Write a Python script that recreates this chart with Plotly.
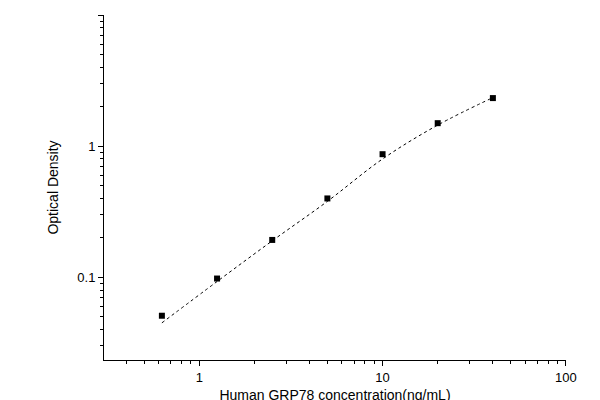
import plotly.graph_objects as go

# standards (ng/mL) and measured OD
conc = [0.625, 1.25, 2.5, 5, 10, 20, 40]
od = [0.051, 0.098, 0.193, 0.40, 0.87, 1.50, 2.33]

# fitted curve
curve_x = [0.625, 1.25, 2.5, 5, 10, 20, 40]
curve_y = [0.045, 0.093, 0.19, 0.38, 0.80, 1.45, 2.35]

fig = go.Figure()
fig.add_trace(go.Scatter(x=curve_x, y=curve_y, mode='lines', line_shape='spline',
                         line=dict(color='black', width=1, dash='dot'), showlegend=False))
fig.add_trace(go.Scatter(x=conc, y=od, mode='markers',
                         marker=dict(symbol='square', size=6, color='black'), showlegend=False))

axis_common = dict(type='log', showline=True, linecolor='black', linewidth=1, ticks='outside',
                   ticklen=5, tickcolor='black', showgrid=False, zeroline=False,
                   minor=dict(ticks='outside', ticklen=3, tickcolor='black', dtick='D1', showgrid=False),
                   tickfont=dict(family='Arial, Liberation Sans', size=13, color='black'))

fig.update_xaxes(range=[-0.52, 2.001], tickvals=[1, 10, 100], ticktext=['1', '10', '100'],
                 title=dict(text='Human GRP78 concentration(ng/mL)', standoff=6,
                            font=dict(size=14, color='black')),
                 **axis_common)
fig.update_yaxes(range=[-1.63, 1.001], tickvals=[0.1, 1, 10], ticktext=['0.1', '1', '10'],
                 title=dict(text='Optical Density', font=dict(size=14, color='black')),
                 **axis_common)
fig.update_layout(width=600, height=400, margin=dict(l=96, r=42, t=7, b=48),
                  plot_bgcolor='white', paper_bgcolor='white',
                  font=dict(family='Arial, Liberation Sans'))
fig.write_html("out.html")
